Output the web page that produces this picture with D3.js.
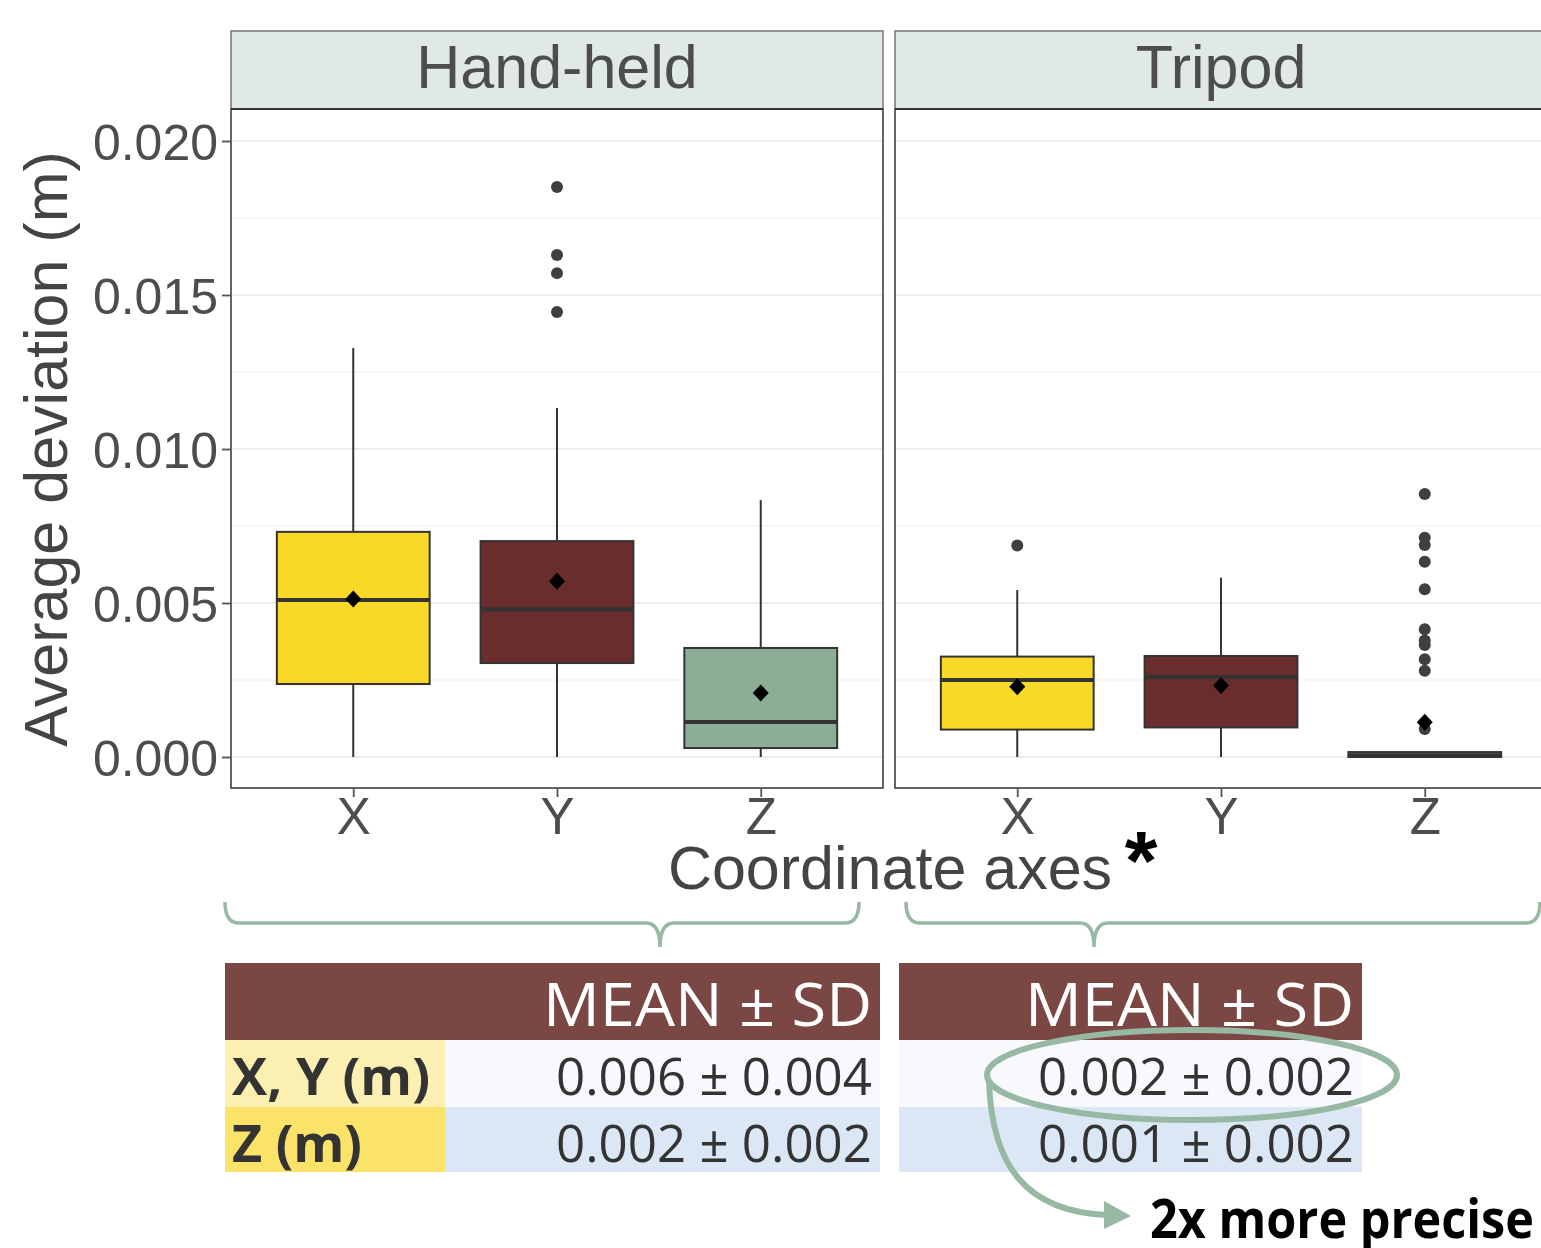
<!DOCTYPE html>
<html>
<head>
<meta charset="utf-8">
<script src="https://cdn.jsdelivr.net/npm/d3@7"></script>
<style>
  body { margin: 0; background: #fff; }
  svg { display: block; }
</style>
</head>
<body>
<div id="chart"></div>
<script>
// data
var PANELS = ["Hand-held", "Tripod"];
var AXES = ["X", "Y", "Z"];
var FILLS = ["#F9D927", "#6A2D2D", "#8BAE95"];

// one entry per box: Hand-held X,Y,Z then Tripod X,Y,Z
var boxPanel = ["Hand-held", "Hand-held", "Hand-held", "Tripod", "Tripod", "Tripod"];
var boxAxis = ["X", "Y", "Z", "X", "Y", "Z"];
var whiskerLow = [0, 0, 0, 0, 0, 0];
var q1 = [0.00237, 0.00305, 0.00029, 0.00089, 0.00096, 0.0];
var median = [0.0051, 0.0048, 0.00114, 0.0025, 0.0026, 0.00006];
var q3 = [0.00731, 0.00701, 0.00354, 0.00326, 0.00328, 0.00016];
var whiskerHigh = [0.01328, 0.01133, 0.00834, 0.00542, 0.00582, 0.00016];
var means = [0.00513, 0.00571, 0.00208, 0.00228, 0.00232, 0.00113];
var outliers = [
  [],
  [0.01851, 0.0163, 0.01571, 0.01445],
  [],
  [0.00687],
  [],
  [0.00854, 0.00712, 0.00688, 0.00634, 0.00545, 0.00415, 0.00378, 0.00364, 0.00317, 0.0028, 0.00091]
];
var Y_TICKS = [0, 0.005, 0.010, 0.015, 0.020];

// summary table
var TABLE_HEAD = "MEAN \u00B1 SD";
var rowLabels = ["X, Y (m)", "Z (m)"];
var handMean = [0.006, 0.002];
var handSD = [0.004, 0.002];
var tripodMean = [0.002, 0.001];
var tripodSD = [0.002, 0.002];

var W = 1541, H = 1248;
var FONT = "'Liberation Sans', Arial, sans-serif";
var TFONT = "'Open Sans', 'Noto Sans', sans-serif";
var GREEN = "#97B8A3";

var svg = d3.select('#chart').append('svg')
    .attr('width', W).attr('height', H)
    .attr('viewBox', '0 0 ' + W + ' ' + H);

var PW = 652, TOP = 109, BOT = 788, STRIP_TOP = 31;
var panelX = [231, 895];

var y = d3.scaleLinear().domain([-31 / 30800, 648 / 30800]).range([BOT, TOP]);
var fmt = d3.format('.3f');

PANELS.forEach(function(p, pi) {
    var x0 = panelX[pi];
    var x = d3.scalePoint().domain(AXES).range([x0, x0 + PW]).padding(0.6);
    var bw = x.step() * 0.75;
    var g = svg.append('g').attr('class', 'panel');

    // grid
    var minor = d3.range(0.0025, 0.021, 0.005);
    g.selectAll('.minor').data(minor).enter().append('line')
        .attr('x1', x0).attr('x2', x0 + PW)
        .attr('y1', function(d){return y(d)}).attr('y2', function(d){return y(d)})
        .attr('stroke', '#EEEEEE').attr('stroke-width', 1);
    g.selectAll('.major').data(Y_TICKS).enter().append('line')
        .attr('x1', x0).attr('x2', x0 + PW)
        .attr('y1', function(d){return y(d)}).attr('y2', function(d){return y(d)})
        .attr('stroke', '#E6E6E6').attr('stroke-width', 1.6);

    // boxes for this panel
    var idx = d3.range(boxPanel.length).filter(function(i){return boxPanel[i] === p});
    idx.forEach(function(i) {
        var cx = x(boxAxis[i]);
        var col = FILLS[AXES.indexOf(boxAxis[i])];
        g.append('line').attr('x1', cx).attr('x2', cx)
            .attr('y1', y(whiskerHigh[i])).attr('y2', y(q3[i]))
            .attr('stroke', '#333').attr('stroke-width', 2);
        g.append('line').attr('x1', cx).attr('x2', cx)
            .attr('y1', y(q1[i])).attr('y2', y(whiskerLow[i]))
            .attr('stroke', '#333').attr('stroke-width', 2);
        g.append('rect')
            .attr('x', cx - bw / 2).attr('width', bw)
            .attr('y', y(q3[i])).attr('height', Math.max(1, y(q1[i]) - y(q3[i])))
            .attr('fill', col).attr('stroke', '#333').attr('stroke-width', 2);
        g.append('line').attr('x1', cx - bw / 2).attr('x2', cx + bw / 2)
            .attr('y1', y(median[i])).attr('y2', y(median[i]))
            .attr('stroke', '#333').attr('stroke-width', 4);
        g.selectAll('.out' + i).data(outliers[i]).enter().append('circle')
            .attr('cx', cx).attr('cy', function(d){return y(d)})
            .attr('r', 6).attr('fill', '#3f3f3f');
        // mean marker (diamond)
        g.append('path')
            .attr('d', 'M0,-8.5 L8,0 L0,8.5 L-8,0 Z')
            .attr('transform', 'translate(' + cx + ',' + y(means[i]) + ')')
            .attr('fill', '#000');
    });

    // panel border
    g.append('rect').attr('x', x0).attr('y', TOP).attr('width', PW).attr('height', BOT - TOP)
        .attr('fill', 'none').attr('stroke', '#555').attr('stroke-width', 1.8);

    // strip
    g.append('rect').attr('x', x0).attr('y', STRIP_TOP).attr('width', PW).attr('height', TOP - STRIP_TOP)
        .attr('fill', '#E0E9E3').attr('stroke', '#777').attr('stroke-width', 1.5);
    g.append('line').attr('x1', x0).attr('x2', x0 + PW).attr('y1', TOP).attr('y2', TOP)
        .attr('stroke', '#333').attr('stroke-width', 2.2);
    g.append('text').attr('x', x0 + PW / 2).attr('y', 88)
        .attr('text-anchor', 'middle').attr('font-family', FONT).attr('font-size', 61)
        .attr('fill', '#4d4d4d').text(p);

    // x axis
    var xa = g.append('g').attr('transform', 'translate(0,' + BOT + ')')
        .call(d3.axisBottom(x).tickSize(9).tickPadding(4));
    xa.select('.domain').remove();
    xa.selectAll('line').attr('stroke', '#555').attr('stroke-width', 1.8);
    xa.selectAll('text').attr('font-family', FONT).attr('font-size', 51)
        .attr('fill', '#4d4d4d').attr('dy', 0).attr('y', 46);

    if (pi === 0) {
        var ya = g.append('g').attr('transform', 'translate(' + x0 + ',0)')
            .call(d3.axisLeft(y).tickValues(Y_TICKS).tickFormat(fmt).tickSize(9).tickPadding(4));
        ya.select('.domain').remove();
        ya.selectAll('line').attr('stroke', '#555').attr('stroke-width', 1.8);
        ya.selectAll('text').attr('font-family', FONT).attr('font-size', 50)
            .attr('fill', '#4d4d4d').attr('dy', '0.36em');
    }
});

// axis titles
svg.append('text').attr('transform', 'translate(67,449) rotate(-90)')
    .attr('text-anchor', 'middle').attr('font-family', FONT).attr('font-size', 61)
    .attr('fill', '#444').text('Average deviation (m)');
svg.append('text').attr('x', 890).attr('y', 889)
    .attr('text-anchor', 'middle').attr('font-family', FONT).attr('font-size', 61)
    .attr('fill', '#444').text('Coordinate axes');
svg.append('text').attr('x', 1141).attr('y', 890)
    .attr('text-anchor', 'middle').attr('font-family', FONT).attr('font-size', 84)
    .attr('font-weight', 'bold').attr('fill', '#000').text('*');

// braces
function brace(x1, x2, tip) {
    var yTop = 902, yMid = 923, yTip = 947, r = 14;
    return 'M' + x1 + ',' + yTop + ' Q' + x1 + ',' + yMid + ' ' + (x1 + r) + ',' + yMid +
        ' L' + (tip - r) + ',' + yMid + ' Q' + tip + ',' + yMid + ' ' + tip + ',' + yTip +
        ' Q' + tip + ',' + yMid + ' ' + (tip + r) + ',' + yMid +
        ' L' + (x2 - r) + ',' + yMid + ' Q' + x2 + ',' + yMid + ' ' + x2 + ',' + yTop;
}
svg.append('path').attr('d', brace(225, 859, 660))
    .attr('fill', 'none').attr('stroke', GREEN).attr('stroke-width', 3.5);
svg.append('path').attr('d', brace(906, 1540, 1094))
    .attr('fill', 'none').attr('stroke', GREEN).attr('stroke-width', 3.5);

// tables
var ROW_Y = [1040, 1107], ROW_H = [67, 65];
function table(x0, x1, labelW, mean, sd, withLabels) {
    var g = svg.append('g');
    g.append('rect').attr('x', x0).attr('y', 963).attr('width', x1 - x0).attr('height', 77).attr('fill', '#7B4744');
    g.append('text').attr('x', x1 - 8).attr('y', 1026).attr('text-anchor', 'end')
        .attr('font-family', TFONT).attr('font-size', 60).attr('fill', '#fff')
        .attr('textLength', 329).attr('lengthAdjust', 'spacingAndGlyphs').text(TABLE_HEAD);
    rowLabels.forEach(function(lab, r) {
        if (withLabels) {
            g.append('rect').attr('x', x0).attr('y', ROW_Y[r]).attr('width', labelW).attr('height', ROW_H[r])
                .attr('fill', r === 0 ? '#FBF0B2' : '#FBE36A');
            g.append('text').attr('x', x0 + 7).attr('y', ROW_Y[r] + 55)
                .attr('font-family', TFONT).attr('font-size', 52).attr('font-weight', 'bold')
                .attr('fill', '#333').attr('textLength', r === 0 ? 198 : 130)
                .attr('lengthAdjust', 'spacingAndGlyphs').text(lab);
        }
        g.append('rect').attr('x', x0 + labelW).attr('y', ROW_Y[r]).attr('width', x1 - x0 - labelW).attr('height', ROW_H[r])
            .attr('fill', r === 0 ? '#F8F9FD' : '#DCE7F5');
        g.append('text').attr('x', x1 - 8).attr('y', ROW_Y[r] + 55).attr('text-anchor', 'end')
            .attr('font-family', TFONT).attr('font-size', 52).attr('fill', '#333')
            .attr('textLength', 316).attr('lengthAdjust', 'spacingAndGlyphs')
            .text(fmt(mean[r]) + ' \u00B1 ' + fmt(sd[r]));
    });
}
table(225, 880, 220, handMean, handSD, true);
table(899, 1362, 0, tripodMean, tripodSD, false);

// highlight
svg.append('ellipse').attr('cx', 1192).attr('cy', 1075).attr('rx', 205).attr('ry', 45)
    .attr('fill', 'none').attr('stroke', GREEN).attr('stroke-width', 6);
svg.append('path').attr('d', 'M989,1082 C992,1165 1025,1212 1108,1215')
    .attr('fill', 'none').attr('stroke', GREEN).attr('stroke-width', 6);
svg.append('path').attr('d', 'M1104,1201 L1131,1216 L1104,1229 Z').attr('fill', GREEN);

svg.append('text').attr('x', 1150).attr('y', 1238)
    .attr('font-family', TFONT).attr('font-size', 53).attr('font-weight', 'bold')
    .attr('fill', '#000').attr('textLength', 384).attr('lengthAdjust', 'spacingAndGlyphs')
    .text('2x more precise');
</script>
</body>
</html>
